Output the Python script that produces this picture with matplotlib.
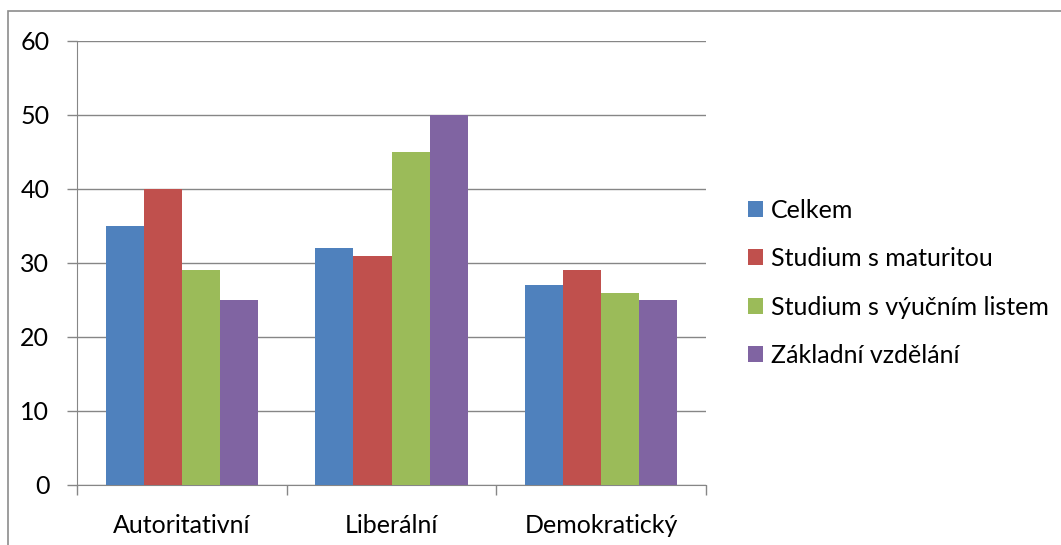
import matplotlib.pyplot as plt
import numpy as np
from matplotlib.patches import Rectangle

plt.rcParams['font.family'] = ['Lato', 'DejaVu Sans']

# Data
categories = ['Autoritativní', 'Liberální', 'Demokratický']
series_names = ['Celkem', 'Studium s maturitou', 'Studium s výučním listem', 'Základní vzdělání']
celkem = [35, 32, 27]
maturita = [40, 31, 29]
vyucni_list = [29, 45, 26]
zakladni = [25, 50, 25]
colours = ['#4f81bd', '#c0504d', '#9bbb59', '#8064a2']

fig = plt.figure(figsize=(10.61, 5.45), dpi=100)
ax = fig.add_axes([0.0726, 0.1101, 0.5928, 0.8147])

# ramecek kolem celeho grafu
fig.patches.append(Rectangle((8 / 1061, -0.1), 1.2, 1.1 - 11 / 545, transform=fig.transFigure,
                             fill=False, edgecolor='#8c8c8c', linewidth=1.2))

x = np.arange(len(categories))
width = 1 / 5.5
all_series = [celkem, maturita, vyucni_list, zakladni]
for i, (vals, name, c) in enumerate(zip(all_series, series_names, colours)):
    ax.bar(x + (i - 1.5) * width, vals, width, color=c, label=name, zorder=3)

ax.set_xlim(-0.5, 2.5)
ax.set_ylim(0, 60)
ax.set_yticks(range(0, 61, 10))
ax.yaxis.grid(True, color='#868686', linewidth=1, zorder=0)

ax.set_xticks([-0.5, 0.5, 1.5, 2.5])
ax.set_xticklabels([])
ax.set_xticks(x, minor=True)
ax.set_xticklabels(categories, minor=True, fontsize=18)
ax.tick_params(axis='x', which='minor', length=0, pad=21)
ax.tick_params(axis='x', which='major', length=7, color='#868686', width=1)
ax.tick_params(axis='y', length=7, color='#868686', width=1, labelsize=18, pad=13)

for s in ['top', 'right']:
    ax.spines[s].set_visible(False)
for s in ['left', 'bottom']:
    ax.spines[s].set_color('#868686')

ax.legend(loc='center left', bbox_to_anchor=(1.051, 0.455), frameon=False, fontsize=18,
          borderaxespad=0, handlelength=0.6, handleheight=0.6, handletextpad=0.3,
          labelspacing=1.02)

fig.savefig('out.png', dpi=100)
